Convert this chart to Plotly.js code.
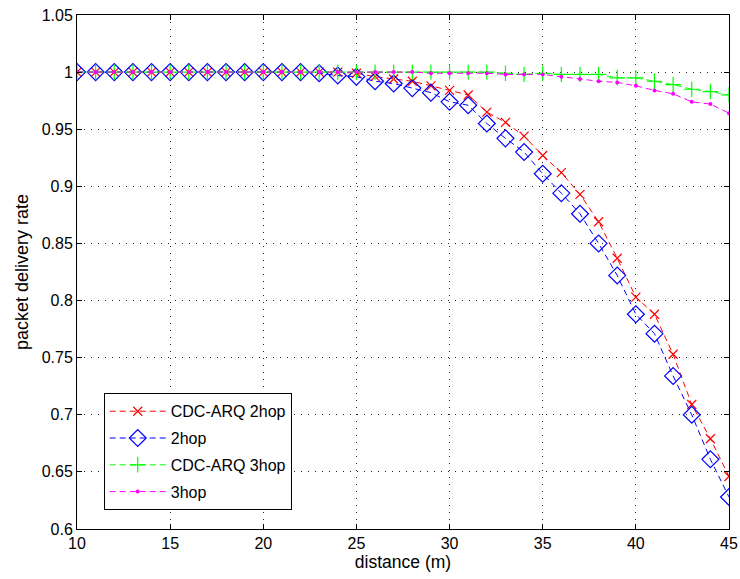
<!DOCTYPE html>
<html>
<head>
<meta charset="utf-8">
<script src="https://cdn.plot.ly/plotly-3.0.1.min.js"></script>
<style>
  html, body { margin: 0; padding: 0; background: #fff; }
  #chart { width: 740px; height: 579px; }
</style>
</head>
<body>
<div id="chart"></div>
<script>
// Distance in metres, one sample per metre
const distance = [10,11,12,13,14,15,16,17,18,19,20,21,22,23,24,25,26,27,28,29,30,31,32,33,34,35,36,37,38,39,40,41,42,43,44,45];

// Packet delivery rate per scheme
const cdcArq2hop = [1,1,1,1,1,1,1,1,1,1,1,1,1,1,1,0.999,0.996,0.994,0.992,0.988,0.984,0.980,0.965,0.956,0.944,0.927,0.912,0.893,0.869,0.837,0.803,0.788,0.753,0.709,0.679,0.646];
const plain2hop  = [1,1,1,1,1,1,1,1,1,1,1,1,1,0.999,0.997,0.996,0.992,0.990,0.986,0.982,0.974,0.971,0.955,0.942,0.930,0.911,0.894,0.876,0.850,0.822,0.788,0.771,0.734,0.700,0.661,0.628];
const cdcArq3hop = [1,1,1,1,1,1,1,1,1,1,1,1,1,1,1,1,1,1,1,1,1,1,1,0.999,0.998,0.999,0.998,0.998,0.998,0.995,0.995,0.992,0.989,0.985,0.983,0.980];
const plain3hop  = [1,1,1,1,1,1,1,1,1,1,1,1,1,1,1,1,1,1,1,0.999,0.999,0.999,0.999,0.998,0.998,0.998,0.996,0.994,0.992,0.991,0.988,0.984,0.981,0.974,0.972,0.964];

const seriesNames = ['CDC-ARQ 2hop', '2hop', 'CDC-ARQ 3hop', '3hop'];

// Axis ticks
const xTicks = [10,15,20,25,30,35,40,45];
const yTicks = [0.6,0.65,0.7,0.75,0.8,0.85,0.9,0.95,1,1.05];
const yTickText = ['0.6','0.65','0.7','0.75','0.8','0.85','0.9','0.95','1','1.05'];

const FONT = 'Liberation Sans, Arial, Helvetica, sans-serif';
const dash = '6px,4px';

const traces = [
  {
    x: distance, y: cdcArq2hop, name: seriesNames[0], legendgroup: 'g1', mode: 'lines+markers',
    line: { color: '#ff0000', width: 1, dash: dash },
    marker: { symbol: 'x-thin-open', size: 9, color: '#ff0000', line: { color: '#ff0000', width: 1.2 } }
  },
  {
    x: distance, y: plain2hop, name: seriesNames[1], legendgroup: 'g2', mode: 'lines+markers',
    line: { color: '#0000ff', width: 1, dash: dash },
    marker: { symbol: 'diamond-open', size: 13, color: '#0000ff', line: { color: '#0000ff', width: 1.2 } }
  },
  {
    x: distance, y: cdcArq3hop, name: seriesNames[2], legendgroup: 'g3', mode: 'lines+markers',
    line: { color: '#00ff00', width: 1, dash: dash },
    marker: { symbol: 'cross-thin-open', size: 11, color: '#00ff00', line: { color: '#00ff00', width: 1.2 } }
  },
  {
    x: distance, y: plain3hop, name: seriesNames[3], legendgroup: 'g4', mode: 'lines+markers',
    line: { color: '#ff00ff', width: 1, dash: dash },
    marker: { symbol: 'circle', size: 4, color: '#ff00ff' }
  }
];

const axisCommon = {
  showline: true, mirror: 'ticks', linecolor: '#000', linewidth: 1,
  ticks: 'inside', ticklen: 5, tickcolor: '#000',
  showgrid: true, gridcolor: '#222', griddash: '1px,6px', gridwidth: 1,
  zeroline: false,
  tickfont: { family: FONT, size: 16, color: '#000' }
};

const layout = {
  width: 740, height: 579,
  margin: { l: 77, r: 11, t: 15, b: 50 },
  paper_bgcolor: '#fff', plot_bgcolor: '#fff',
  showlegend: true,
  xaxis: Object.assign({}, axisCommon, {
    range: [10, 45], tickvals: xTicks,
    title: { text: 'distance (m)', font: { family: FONT, size: 17.5, color: '#000' }, standoff: 4 }
  }),
  yaxis: Object.assign({}, axisCommon, {
    range: [0.6, 1.05], tickvals: yTicks, ticktext: yTickText,
    title: { text: 'packet delivery rate', font: { family: FONT, size: 18, color: '#000' }, standoff: 8 }
  }),
  legend: {
    x: 0.041, y: 0.264, xanchor: 'left', yanchor: 'top',
    bgcolor: '#fff', bordercolor: '#000', borderwidth: 1,
    font: { family: FONT, size: 16, color: '#000' },
    itemwidth: 56, tracegroupgap: 3
  }
};

Plotly.newPlot('chart', traces, layout, { displayModeBar: false, staticPlot: true });
</script>
</body>
</html>
